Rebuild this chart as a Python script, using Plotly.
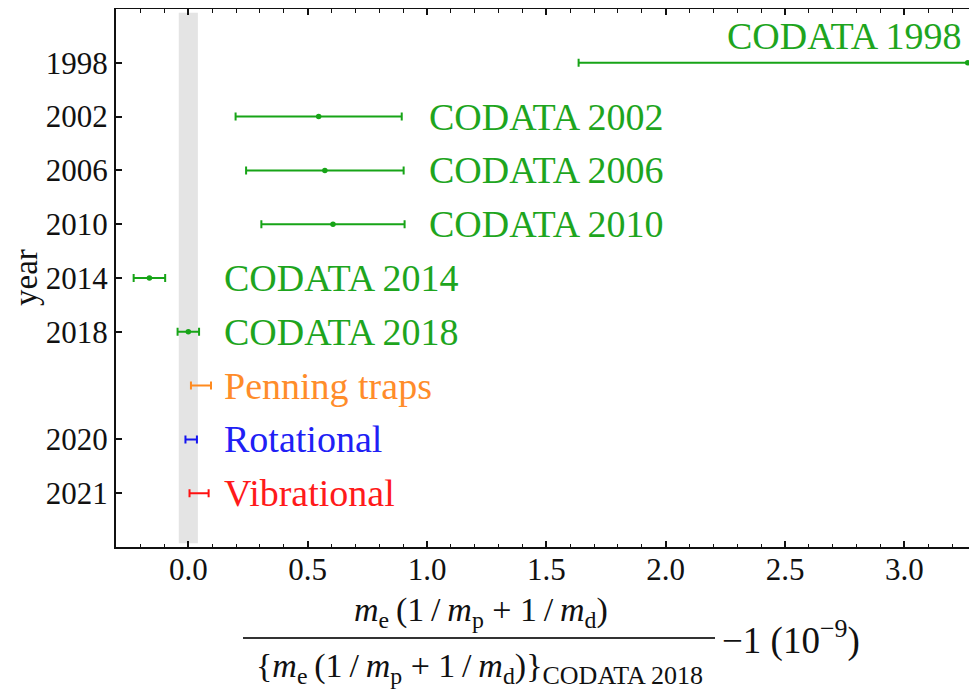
import plotly.graph_objects as go

# ---------------- data ----------------
labels = ["CODATA 1998", "CODATA 2002", "CODATA 2006", "CODATA 2010",
          "CODATA 2014", "CODATA 2018", "Penning traps", "Rotational", "Vibrational"]
values = [3.265, 0.546, 0.572, 0.606, -0.163, 0.0, 0.053, 0.012, 0.045]
errors = [1.63, 0.348, 0.330, 0.300, 0.066, 0.045, 0.042, 0.024, 0.040]
groups = ["codata"] * 6 + ["penning", "rot", "vib"]
year_ticks = [0, 1, 2, 3, 4, 5, 7, 8]
year_text = ["1998", "2002", "2006", "2010", "2014", "2018", "2020", "2021"]
band_halfwidth = 0.04  # CODATA 2018 uncertainty band

# ---------------- style ----------------
FONT = "Liberation Serif"
colors = {"codata": "#17a417", "penning": "#ff8a1e", "rot": "#1414f0", "vib": "#ff1010"}
text_colors = {"codata": "#1ea51e", "penning": "#ff8c2a", "rot": "#2020f5", "vib": "#ff1a1a"}
label_x = [3.245, 1.0, 1.0, 1.0, 0.14, 0.14, 0.14, 0.14, 0.14]
label_dy = [-0.5, 0, 0, 0, 0, 0, 0, 0, 0]
label_anchor = ["right"] + ["left"] * 8

OFF = 8  # page body margin
W, H = 977 - OFF, 692 - OFF
L, R, T, B = 108, 0, 1, 145
PW, PH = W - L - R, H - T - B


def px_x(px):  # page pixel -> paper
    return (px - OFF - L) / PW


def px_y(py):
    return (H - B - (py - OFF)) / PH


fig = go.Figure()

for g in ["codata", "penning", "rot", "vib"]:
    idx = [i for i, gg in enumerate(groups) if gg == g]
    fig.add_trace(go.Scatter(
        x=[values[i] for i in idx],
        y=idx,
        mode="markers",
        marker=dict(size=5.5 if g == "codata" else 1,
                    color=colors[g] if g == "codata" else "rgba(0,0,0,0)"),
        error_x=dict(type="data", array=[errors[i] for i in idx], symmetric=True,
                     color=colors[g], thickness=2, width=4),
        showlegend=False,
        hoverinfo="skip",
    ))

# gray band
fig.add_shape(type="rect", xref="x", yref="y", x0=-band_halfwidth, x1=band_halfwidth,
              y0=-0.93, y1=8.93, fillcolor="#e4e4e4", line=dict(width=0), layer="below")

# labels
for i, lab in enumerate(labels):
    fig.add_annotation(x=label_x[i], y=i + label_dy[i], xref="x", yref="y",
                       text=lab, showarrow=False, xanchor=label_anchor[i], yanchor="middle",
                       font=dict(family=FONT, size=38, color=text_colors[groups[i]]))

# y title
fig.add_annotation(x=px_x(26), y=0.5, xref="paper", yref="paper", text="year",
                   textangle=-90, showarrow=False, xanchor="center", yanchor="middle",
                   borderpad=0, font=dict(family=FONT, size=33, color="#111"))

# x title (fraction)
num = "<i>m</i><sub>e</sub>\u2009(1\u2009/\u2009<i>m</i><sub>p</sub> + 1\u2009/\u2009<i>m</i><sub>d</sub>)"
den = ("{<i>m</i><sub>e</sub>\u2009(1\u2009/\u2009<i>m</i><sub>p</sub> + 1\u2009/\u2009<i>m</i><sub>d</sub>)}"
       "<sub><span style='font-size:26px'>CODATA 2018</span></sub>")
tf = dict(family=FONT, size=34, color="#111")
fig.add_annotation(x=px_x(481), y=px_y(612), xref="paper", yref="paper", text=num,
                   showarrow=False, xanchor="center", yanchor="middle", font=tf)
fig.add_annotation(x=px_x(479), y=px_y(668), xref="paper", yref="paper", text=den,
                   showarrow=False, xanchor="center", yanchor="middle", font=tf)
fig.add_shape(type="line", xref="paper", yref="paper", x0=px_x(243), x1=px_x(715),
              y0=px_y(638), y1=px_y(638), line=dict(color="#333", width=2))
fig.add_annotation(x=px_x(720), y=px_y(638), xref="paper", yref="paper",
                   text="\u22121 (10<sup>\u22129</sup>)", showarrow=False,
                   xanchor="left", yanchor="middle",
                   font=dict(family=FONT, size=37, color="#111"))

fig.update_layout(
    width=W, height=H,
    margin=dict(l=L, r=R, t=T, b=B, pad=0),
    plot_bgcolor="white", paper_bgcolor="white",
    font=dict(family=FONT, color="#111"),
)
fig.update_xaxes(
    range=[-0.303, 3.304], tick0=0, dtick=0.5, tickformat=".1f",
    ticks="inside", ticklen=6, tickwidth=1.5, tickcolor="#111",
    minor=dict(dtick=0.1, tick0=0, ticks="inside", ticklen=3.5, tickwidth=1, tickcolor="#111"),
    showline=True, linewidth=2, linecolor="#111", mirror="allticks",
    showgrid=False, zeroline=False, ticklabelstandoff=-6,
    tickfont=dict(family=FONT, size=31, color="#111"),
)
fig.update_yaxes(
    range=[9, -1], tickvals=year_ticks, ticktext=year_text,
    ticks="inside", ticklen=6, tickwidth=1.5, tickcolor="#111",
    showline=True, linewidth=2, linecolor="#111", mirror=False,
    showgrid=False, zeroline=False,
    tickfont=dict(family=FONT, size=31, color="#111"),
)

fig.write_html("out.html")
